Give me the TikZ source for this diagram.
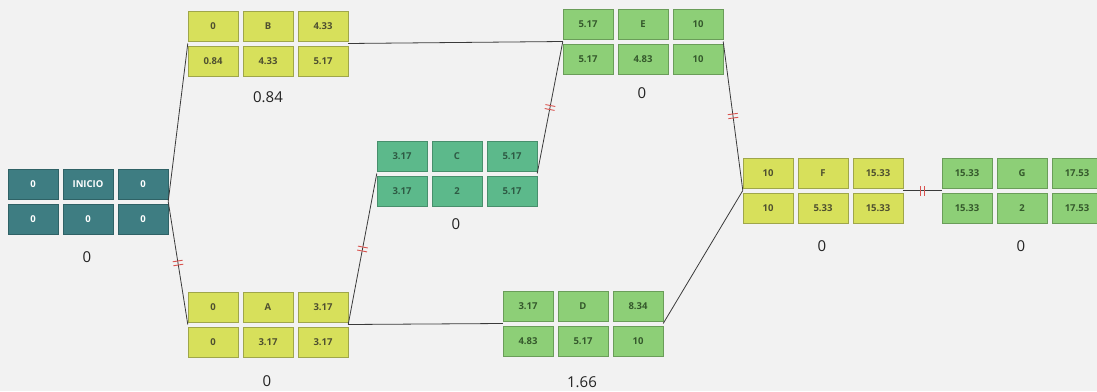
\documentclass[tikz,border=0pt]{standalone}
\usepackage{fontspec}
\setmainfont{Open Sans}
\usetikzlibrary{decorations.markings}
\definecolor{bgc}{HTML}{F2F2F2}
\definecolor{tealc}{HTML}{3E7D82}
\definecolor{tealb}{HTML}{2F6266}
\definecolor{yelc}{HTML}{D7E05B}
\definecolor{yelb}{HTML}{9FA64A}
\definecolor{yelt}{HTML}{4F5030}
\definecolor{grnc}{HTML}{5CB98B}
\definecolor{grnb}{HTML}{478F6C}
\definecolor{grnt}{HTML}{2E5A44}
\definecolor{lgrc}{HTML}{8DCF77}
\definecolor{lgrb}{HTML}{6A9D59}
\definecolor{lgrt}{HTML}{35592C}
\definecolor{linec}{HTML}{3A3A3A}
\definecolor{brkc}{HTML}{D9534F}
\definecolor{labc}{HTML}{222222}
\tikzset{
  cell/.style={minimum width=50pt, minimum height=30pt, inner sep=0pt, line width=0.5pt,
    font=\bfseries\fontsize{9.5}{10}\selectfont},
  tealcell/.style={fill=tealc, draw=tealb, text=white},
  yelcell/.style={fill=yelc, draw=yelb, text=yelt},
  grncell/.style={fill=grnc, draw=grnb, text=grnt},
  lgrcell/.style={fill=lgrc, draw=lgrb, text=lgrt},
  blockframe/.style={minimum width=160pt, minimum height=65pt, inner sep=0pt},
  slack/.style={font=\fontsize{15}{17}\selectfont, text=labc},
  conn/.style={draw=linec, line width=0.8pt},
  brk/.style={postaction={decorate, decoration={markings,
    mark=at position 0.5 with {\draw[brkc, line width=0.9pt] (-2pt,-5pt) -- (-2pt,5pt) (2pt,-5pt) -- (2pt,5pt);}}}}
}
\newcommand{\pertblock}[5]{%
  \begin{scope}[shift={(#2)}]
    \node[blockframe] (#1) at (80,32.5) {};
    \foreach \t [count=\i from 0] in {#4} {\node[cell,#3] (#1-t\i) at (25+55*\i,15) {\t};}
    \foreach \t [count=\i from 0] in {#5} {\node[cell,#3] (#1-b\i) at (25+55*\i,50) {\t};}
  \end{scope}}
\begin{document}
\begin{tikzpicture}[x=1pt,y=-1pt]
\fill[bgc] (0,0) rectangle (1097,391);
\useasboundingbox (0,0) rectangle (1097,391);
\clip (0,0) rectangle (1097,391);
% blocks
\pertblock{INICIO}{8,169}{tealcell}{0,INICIO,0}{0,0,0}
\pertblock{B}{188,11}{yelcell}{0,B,4.33}{0.84,4.33,5.17}
\pertblock{A}{188,292}{yelcell}{0,A,3.17}{0,3.17,3.17}
\pertblock{C}{377,141}{grncell}{3.17,C,5.17}{3.17,2,5.17}
\pertblock{E}{563,9}{lgrcell}{5.17,E,10}{5.17,4.83,10}
\pertblock{D}{503,291}{lgrcell}{3.17,D,8.34}{4.83,5.17,10}
\pertblock{F}{743,158}{yelcell}{10,F,15.33}{10,5.33,15.33}
\pertblock{G}{942,158}{lgrcell}{15.33,G,17.53}{15.33,2,17.53}
% slack labels
\node[slack] (sINICIO) at (87,257) {0};
\node[slack] (sB) at (268,97) {0.84};
\node[slack] (sA) at (267,381) {0};
\node[slack] (sC) at (456,224) {0};
\node[slack] (sE) at (642,93) {0};
\node[slack] (sD) at (582,382) {1.66};
\node[slack] (sF) at (822,246) {0};
\node[slack] (sG) at (1021,246) {0};
% connectors
\draw[conn] (INICIO.east) -- (B.west);
\draw[conn,brk] (INICIO.east) -- (A.west);
\draw[conn] (B.east) -- (E.west);
\draw[conn,brk] (A.east) -- (C.west);
\draw[conn] (A.east) -- (D.west);
\draw[conn,brk] (C.east) -- (E.west);
\draw[conn,brk] (E.east) -- (F.west);
\draw[conn] (D.east) -- (F.west);
\draw[conn,brk] (F.east) -- (G.west);
\end{tikzpicture}
\end{document}
